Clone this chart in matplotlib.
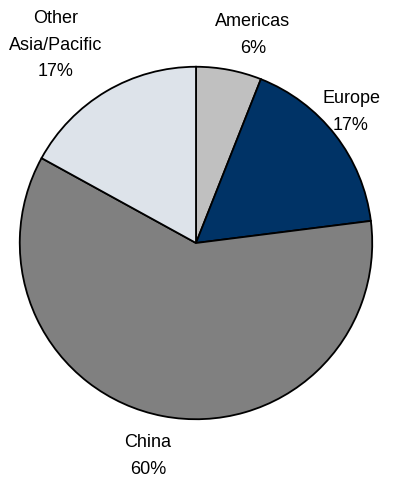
import matplotlib.pyplot as plt
from matplotlib import font_manager

regions = ['Americas', 'Europe', 'China', 'Other\nAsia/Pacific']
shares = [6, 17, 60, 17]
colors = ['#c0c0c0', '#003366', '#808080', '#dde3ea']

# label anchors in pixels (x, y from top)
label_pos = [(253, 35), (351, 112), (148, 456), (56, 45)]

names = {f.name for f in font_manager.fontManager.ttflist}
family = 'Liberation Sans Narrow' if 'Liberation Sans Narrow' in names else 'Liberation Sans'
plt.rcParams['font.family'] = [family, 'DejaVu Sans']

W, H = 399, 478
fig = plt.figure(figsize=(W / 100, H / 100), dpi=100)
cx, cy, r = 196, 243, 178
ax = fig.add_axes([(cx - r) / W, (H - cy - r) / H, 2 * r / W, 2 * r / H])

ax.pie(shares, colors=colors, startangle=90, counterclock=False,
       wedgeprops=dict(edgecolor='black', linewidth=1.3))
ax.set_xlim(-1.01, 1.01)
ax.set_ylim(-1.01, 1.01)
ax.set_aspect('equal')
ax.axis('off')

for name, val, (x, y) in zip(regions, shares, label_pos):
    fig.text(x / W, 1 - y / H, f'{name}\n{val}%', ha='center', va='center',
             fontsize=13, linespacing=1.7, color='black')

fig.savefig('out.png', dpi=100)
